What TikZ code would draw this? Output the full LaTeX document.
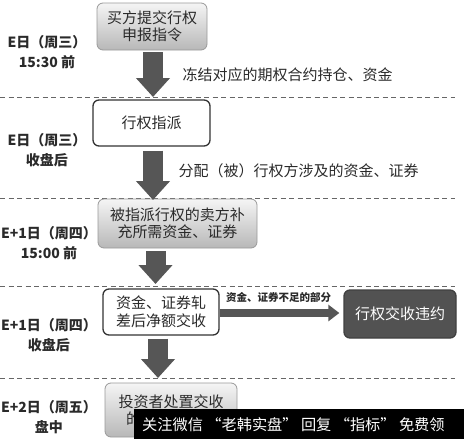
\documentclass[tikz,border=0pt]{standalone}
\usepackage{fontspec}
\setmainfont{Noto Sans CJK SC}
\newfontfamily\cjkfont{Noto Sans CJK SC}
\usetikzlibrary{arrows.meta}
\definecolor{arrowgray}{HTML}{565656}
\definecolor{boxtext}{HTML}{2A2A2A}
\begin{document}
\begin{tikzpicture}[x=1pt,y=-1pt,
  boxfont/.style={font=\cjkfont\fontsize{15}{17.5}\selectfont},
  gradbox/.style={boxfont, draw=black!40, line width=0.8pt, rounded corners=6pt,
    top color=black!4, bottom color=black!28, align=center, text=boxtext, inner sep=0pt},
  whitebox/.style={boxfont, draw=black!80, line width=1.3pt, rounded corners=6pt,
    fill=white, align=center, text=boxtext, inner sep=0pt},
  darkbox/.style={boxfont, draw=black!75, line width=1.3pt, rounded corners=6pt,
    fill=black!68, align=center, text=white, inner sep=0pt},
  lbl/.style={font=\cjkfont\bfseries\fontsize{14}{20}\selectfont, align=center, text=boxtext},
  note/.style={font=\cjkfont\fontsize{15}{15}\selectfont, anchor=west, text=boxtext},
  blockarrow/.style={draw=arrowgray, line width=20pt, -{Triangle[width=33pt,length=19pt]}},
  sidearrow/.style={draw=arrowgray, line width=8pt, -{Triangle[width=16pt,length=11pt]}},
  dashline/.style={draw=black!60, line width=1pt, dash pattern=on 5pt off 3.5pt}
]
\useasboundingbox (0,0) rectangle (464,439);

% separators
\coordinate (d1) at (0,97);
\coordinate (d2) at (0,198);
\coordinate (d3) at (0,286);
\coordinate (d4) at (0,378);
\foreach \d in {d1,d2,d3,d4} \draw[dashline] (\d) -- ++(455,0);

% boxes
\node[gradbox, minimum width=110, minimum height=47] (b1) at (152,26.5) {买方提交行权\\申报指令};
\node[whitebox, minimum width=117, minimum height=46] (b2) at (151.5,123) {行权指派};
\node[gradbox, minimum width=159, minimum height=49] (b3) at (177.5,223.5) {被指派行权的卖方补\\充所需资金、证券};
\node[whitebox, minimum width=116, minimum height=46] (b4) at (161,312) {资金、证券轧\\差后净额交收};
\node[darkbox, minimum width=112, minimum height=48] (b5) at (400,314) {行权交收违约};
\node[gradbox, minimum width=132, minimum height=54] (b6) at (171,410) {投资者处置交收\\的证券、资金};

% left labels
\node[lbl] (l1) at (47,52) {E日（周三）\\15:30 前};
\node[lbl] (l2) at (47,150) {E日（周三）\\收盘后};
\node[lbl] (l3) at (49,243) {E+1日（周四）\\15:00 前};
\node[lbl] (l4) at (49,335) {E+1日（周四）\\收盘后};
\node[lbl] (l5) at (49,417) {E+2日（周五）\\盘中};

% arrows
\draw[blockarrow] ([xshift=1pt,yshift=-2pt]b1.south) -- ([xshift=1pt]b1.south |- d1);
\draw[blockarrow] ([xshift=1.5pt,yshift=-4pt]b2.south) -- ([xshift=1.5pt,yshift=-2pt]b2.south |- d2);
\draw[blockarrow] ([xshift=-22pt,yshift=-3pt]b3.south) -- ([xshift=-22pt,yshift=2pt]b3.south |- d3);
\draw[blockarrow] ([xshift=-3pt,yshift=-3pt]b4.south) -- ([xshift=-3pt]b4.south |- d4);
\draw[sidearrow, shorten >=4pt] ([yshift=-1pt]b4.east) -- ([yshift=-1pt]b4.east -| b5.west)
  node[midway, above=3pt, xshift=-3pt, font=\cjkfont\bfseries\fontsize{10.5}{10.5}\selectfont, text=boxtext] (t3) {资金、证券不足的部分};

% notes
\node[note] (t1) at (179,75) {冻结对应的期权合约持仓、资金};
\node[note] (t2) at (175,171) {分配（被）行权方涉及的资金、证券};

% watermark
\fill[black] (134,409) rectangle (464,439);
\node[anchor=west, text=white, font=\cjkfont\fontsize{15.2}{15.2}\selectfont, inner sep=0pt] (wm) at (142,424.5) {关注微信 “老韩实盘” 回复 “指标” 免费领};
\end{tikzpicture}
\end{document}
